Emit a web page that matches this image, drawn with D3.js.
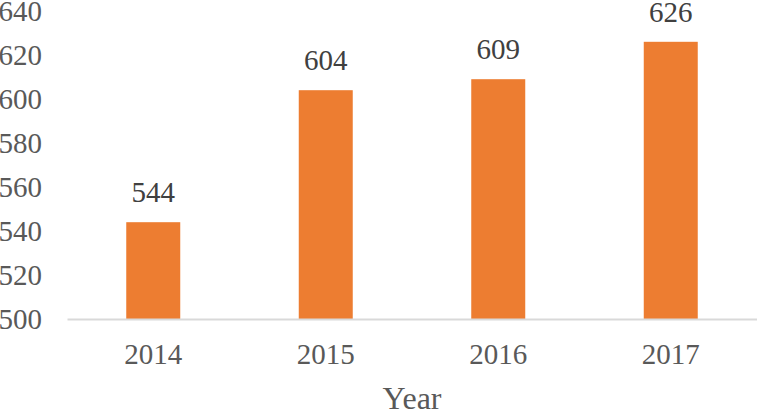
<!DOCTYPE html>
<html>
<head>
<meta charset="utf-8">
<script src="https://cdn.jsdelivr.net/npm/d3@7"></script>
<style>
  body { margin: 0; background: #fff; }
  text { font-family: "Liberation Serif", "Times New Roman", serif; }
</style>
</head>
<body>
<div id="chart"></div>
<script>
var years = ["2014", "2015", "2016", "2017"];
var counts = [544, 604, 609, 626];
var yTicks = [500, 520, 540, 560, 580, 600, 620, 640];

var width = 757, height = 410;
var margin = {top: 11, right: 0, bottom: 91, left: 67};

var svg = d3.select("#chart").append("svg")
    .attr("width", width)
    .attr("height", height);

var x = d3.scaleBand()
    .domain(years)
    .range([margin.left, width - margin.right])
    .paddingInner(0.687)
    .paddingOuter(0.3435);

var y = d3.scaleLinear()
    .domain([500, 640])
    .range([height - margin.bottom, margin.top]);

// y tick labels (no axis line, no gridlines)
svg.append("g")
    .selectAll("text")
    .data(yTicks)
    .enter().append("text")
      .attr("x", 42)
      .attr("y", function(d) { return y(d); })
      .attr("dy", "0.35em")
      .attr("text-anchor", "end")
      .attr("fill", "#595959")
      .style("font-size", "29px")
      .text(function(d) { return d; });

// bars
svg.append("g")
    .selectAll("rect")
    .data(counts)
    .enter().append("rect")
      .attr("x", function(d, i) { return x(years[i]); })
      .attr("y", function(d) { return y(d); })
      .attr("width", x.bandwidth())
      .attr("height", function(d) { return y(500) - y(d); })
      .attr("fill", "#ED7D31");

// value labels
svg.append("g")
    .selectAll("text")
    .data(counts)
    .enter().append("text")
      .attr("x", function(d, i) { return x(years[i]) + x.bandwidth() / 2; })
      .attr("y", function(d) { return y(d) - 20; })
      .attr("text-anchor", "middle")
      .attr("fill", "#404040")
      .style("font-size", "29px")
      .text(function(d) { return d; });

// x axis
var xAxis = svg.append("g")
    .attr("transform", "translate(0," + y(500) + ")")
    .call(d3.axisBottom(x).tickSize(0).tickPadding(24));

xAxis.select(".domain").attr("stroke", "#d9d9d9").attr("stroke-width", 2);
xAxis.selectAll("text")
    .attr("fill", "#595959")
    .style("font-size", "29px")
    .style("font-family", "Liberation Serif, serif");

svg.append("text")
    .attr("x", margin.left + (width - margin.left - margin.right) / 2)
    .attr("y", 409)
    .attr("text-anchor", "middle")
    .attr("fill", "#595959")
    .style("font-size", "32px")
    .text("Year");
</script>
</body>
</html>
